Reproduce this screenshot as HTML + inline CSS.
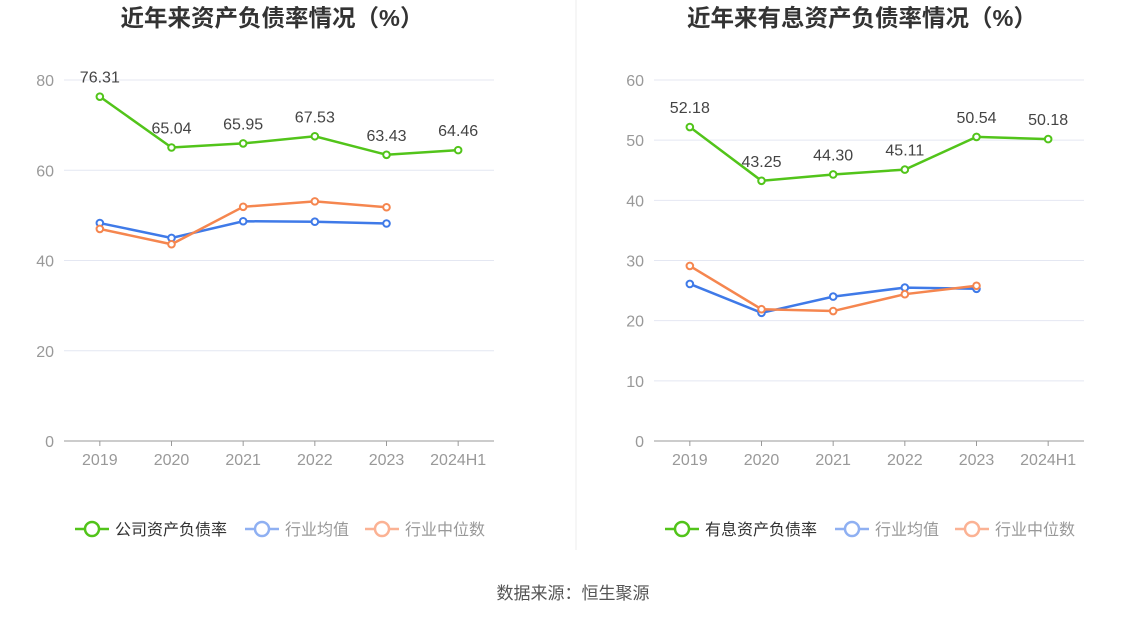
<!DOCTYPE html>
<html><head><meta charset="utf-8"><style>
body{margin:0;background:#fff;width:1147px;height:619px;overflow:hidden;font-family:"Liberation Sans","Noto Sans CJK SC",sans-serif}
svg{display:block}
</style></head><body>
<svg id="c" width="1147" height="619">
<line x1="576" y1="0" x2="576" y2="550" stroke="#eee"/>
<text x="573" y="599" text-anchor="middle" font-size="17" fill="#555">数据来源：恒生聚源</text>
</svg>
<script>
const categories=["2019","2020","2021","2022","2023","2024H1"];
const leftCompany=[76.31,65.04,65.95,67.53,63.43,64.46];
const leftAvg=[48.3,45.0,48.7,48.6,48.2];
const leftMedian=[47.0,43.6,51.9,53.1,51.8];
const leftTicks=[0,20,40,60,80];
const rightCompany=[52.18,43.25,44.30,45.11,50.54,50.18];
const rightAvg=[26.1,21.3,24.0,25.5,25.3];
const rightMedian=[29.1,21.9,21.6,24.4,25.8];
const rightTicks=[0,10,20,30,40,50,60];
const NS="http://www.w3.org/2000/svg";
const svg=document.getElementById('c');
function mk(t,a,p){const e=document.createElementNS(NS,t);for(const k in a)e.setAttribute(k,a[k]);(p||svg).appendChild(e);return e;}
function chart(ox,title,ticks,max,comp,avg,med,compName,pfx){
  const x0=ox+64,x1=ox+494,yb=441,yt=80;
  const step=(x1-x0)/6;
  const X=i=>x0+step*(i+0.5);
  const Y=v=>yb-(v/max)*(yb-yt);
  let t=mk('text',{x:ox+272,y:26,'text-anchor':'middle','font-size':23.5,'font-weight':'bold',fill:'#333'});t.textContent=title;
  
  
  ticks.forEach(v=>{
    if(v>0){const g=mk('line',{x1:x0,x2:x1,y1:Y(v),y2:Y(v),stroke:'#e4e7f2'});
    
    }
    const l=mk('text',{x:x0-10,y:Y(v)+6,'text-anchor':'end','font-size':16,fill:'#999'});l.textContent=v;
    
    
  });
  const ax=mk('line',{x1:x0,x2:x1,y1:yb,y2:yb,stroke:'#999'});
  
  
  categories.forEach((c,i)=>{
    const tk=mk('line',{x1:X(i),x2:X(i),y1:yb,y2:yb+5,stroke:'#999'});
    
    
    const l=mk('text',{x:X(i),y:yb+24,'text-anchor':'middle','font-size':16,fill:'#999'});l.textContent=c;
    
    
  });
  function series(vals,color,name,labels){
    const p=mk('polyline',{points:vals.map((v,i)=>X(i)+','+Y(v)).join(' '),fill:'none',stroke:color,'stroke-width':2.5});
    
    
    vals.forEach((v,i)=>{
      const c=mk('circle',{cx:X(i),cy:Y(v),r:3.3,fill:'#fff',stroke:color,'stroke-width':2});
      
      
      if(labels){const l=mk('text',{x:X(i),y:Y(v)-14,'text-anchor':'middle','font-size':16,fill:'#444'});l.textContent=v.toFixed(2);
      
      }
    });
  }
  series(avg,'#3f7ae8','avg',false);
  series(med,'#f5864f','median',false);
  series(comp,'#52c41a','company',true);
  const items=[[compName,'#52c41a','#333',ox+75],['行业均值','#8fb0f2','#999',ox+245],['行业中位数','#fbb294','#999',ox+365]];
  items.forEach(([n,c,tc,lx])=>{
    const g=mk('g',{});
    
    
    mk('line',{x1:lx,x2:lx+34,y1:529,y2:529,stroke:c,'stroke-width':2.5},g);
    mk('circle',{cx:lx+17,cy:529,r:7,fill:'#fff',stroke:c,'stroke-width':2.5},g);
    const t=mk('text',{x:lx+40,y:535,'font-size':16,fill:tc},g);t.textContent=n;
  });
}
chart(0,'近年来资产负债率情况（%）',leftTicks,80,leftCompany,leftAvg,leftMedian,'公司资产负债率','left');
chart(590,'近年来有息资产负债率情况（%）',rightTicks,60,rightCompany,rightAvg,rightMedian,'有息资产负债率','right');
</script>
</body></html>
